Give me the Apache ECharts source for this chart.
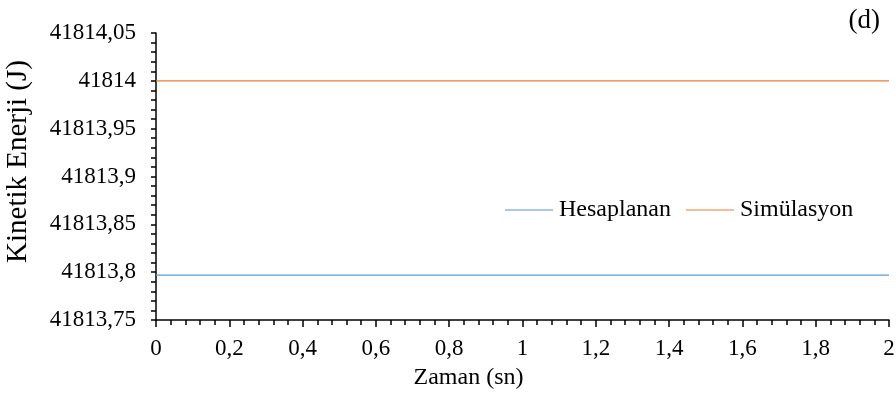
<!DOCTYPE html>
<html>
<head>
<meta charset="utf-8">
<script src="https://cdn.jsdelivr.net/npm/echarts@6/dist/echarts.min.js"></script>
<style>html,body{margin:0;padding:0;background:#fff}#c{width:896px;height:396px}</style>
</head>
<body>
<div id="c"></div>
<script>
var times = [0, 0.2, 0.4, 0.6, 0.8, 1, 1.2, 1.4, 1.6, 1.8, 2];
var hesaplanan = [41813.797, 41813.797, 41813.797, 41813.797, 41813.797, 41813.797, 41813.797, 41813.797, 41813.797, 41813.797, 41813.797];
var simulasyon = [41814.0, 41814.0, 41814.0, 41814.0, 41814.0, 41814.0, 41814.0, 41814.0, 41814.0, 41814.0, 41814.0];
var seriesNames = ['Hesaplanan', 'Simülasyon'];
var panelLabel = '(d)';
var xName = 'Zaman (sn)';
var yName = 'Kinetik Enerji (J)';

var font = '"Liberation Serif", "Times New Roman", serif';
function fmt(v){ return String(Math.round(v*100)/100).replace('.', ','); }
function pairs(xs, ys){ return xs.map(function(x,i){ return [x, ys[i]]; }); }

var chart = echarts.init(document.getElementById('c'), null, {renderer:'canvas'});
chart.setOption({
  animation: false,
  textStyle: {fontFamily: font, color: '#000'},
  grid: {left: 156, right: 7, top: 33, bottom: 76, containLabel: false, outerBoundsMode: 'none'},
  title: {text: panelLabel, right: 11, top: 2, textStyle: {fontFamily: font, fontSize: 27, fontWeight: 'normal', color: '#000'}},
  legend: {
    left: 500, top: 193, itemWidth: 48, itemHeight: 2, itemGap: 15,
    textStyle: {fontFamily: font, fontSize: 24, color: '#000', padding: [0,0,0,1]},
    data: [
      {name: seriesNames[0], icon: 'rect', itemStyle: {color: '#a9c9e8'}},
      {name: seriesNames[1], icon: 'rect', itemStyle: {color: '#f5bd9a'}}
    ]
  },
  xAxis: {
    type: 'value', min: 0, max: 2, interval: 0.2,
    name: xName, nameLocation: 'middle', nameGap: 46,
    nameTextStyle: {fontFamily: font, fontSize: 24, color: '#000', padding: [0, 108, 0, 0]},
    axisLine: {show: true, onZero: false, lineStyle: {color: '#000', width: 1.5}},
    axisTick: {show: true, length: 7, lineStyle: {color: '#000', width: 1.5}},
    minorTick: {show: true, splitNumber: 5, length: 5, lineStyle: {color: '#000', width: 1.5}},
    splitLine: {show: false},
    axisLabel: {fontFamily: font, fontSize: 23, color: '#000', margin: 17, formatter: fmt}
  },
  yAxis: {
    type: 'value', min: 41813.75, max: 41814.05, interval: 0.05,
    name: yName, nameLocation: 'middle', nameGap: 123, nameRotate: 90,
    nameTextStyle: {fontFamily: font, fontSize: 29, color: '#000', padding: [0,0,0,30]},
    axisLine: {show: true, lineStyle: {color: '#000', width: 1.5}},
    axisTick: {show: true, length: 5, lineStyle: {color: '#000', width: 1.5}},
    minorTick: {show: true, splitNumber: 5, length: 5, lineStyle: {color: '#000', width: 1.5}},
    splitLine: {show: false},
    axisLabel: {fontFamily: font, fontSize: 23, color: '#000', margin: 20, formatter: fmt}
  },
  series: [
    {name: seriesNames[0], type: 'line', data: pairs(times, hesaplanan), showSymbol: false, symbol: 'none',
     lineStyle: {color: '#5b9bd5', width: 1.3}, itemStyle: {color: '#5b9bd5'}},
    {name: seriesNames[1], type: 'line', data: pairs(times, simulasyon), showSymbol: false, symbol: 'none',
     lineStyle: {color: '#ed7d31', width: 1.3}, itemStyle: {color: '#ed7d31'}}
  ]
});
</script>
</body>
</html>
